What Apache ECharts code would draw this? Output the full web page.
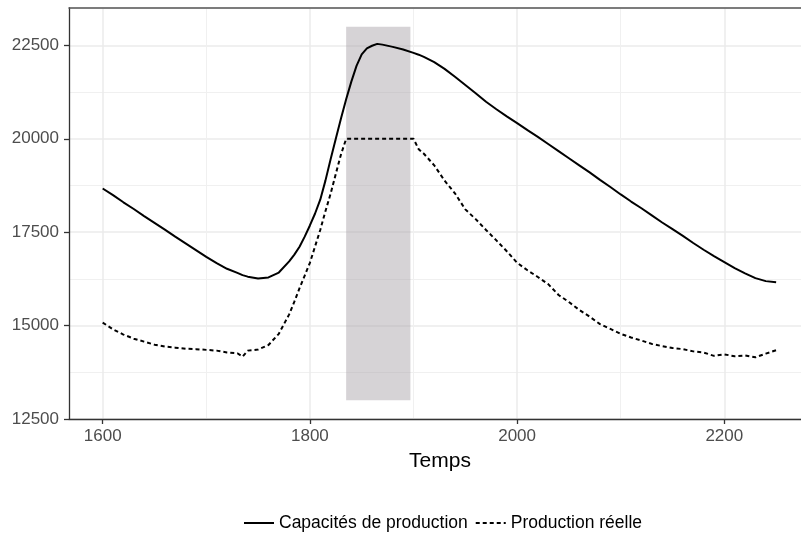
<!DOCTYPE html>
<html>
<head>
<meta charset="utf-8">
<script src="https://cdn.jsdelivr.net/npm/echarts@6/dist/echarts.min.js"></script>
<style>
  html, body { margin: 0; padding: 0; background: #fff; overflow: hidden; }
  #chart { width: 801px; height: 536px; }
</style>
</head>
<body>
<div id="chart"></div>
<script>
// years and values
const years = [
  1600, 1610, 1620, 1630, 1640, 1650, 1660, 1670, 1680, 1690,
  1700, 1710, 1720, 1730, 1735, 1740, 1750, 1760, 1770, 1780,
  1785, 1790, 1795, 1800, 1805, 1810, 1815, 1820, 1825, 1830,
  1835, 1840, 1845, 1850, 1855, 1860, 1865, 1870, 1880, 1890,
  1900, 1905, 1910, 1920, 1930, 1940, 1950, 1960, 1970, 1980,
  1990, 2000, 2010, 2020, 2030, 2040, 2050, 2060, 2070, 2080,
  2090, 2100, 2110, 2120, 2130, 2140, 2150, 2160, 2170, 2180,
  2190, 2200, 2210, 2220, 2230, 2240, 2250
];
const capacites = [
  18670, 18490, 18300, 18120, 17930, 17750, 17570, 17380, 17200, 17020,
  16840, 16670, 16520, 16410, 16350, 16310, 16260, 16290, 16420, 16720,
  16900, 17110, 17380, 17680, 18000, 18370, 18880, 19450, 20000, 20540,
  21060, 21530, 21950, 22260, 22420, 22490, 22540, 22520, 22460, 22390,
  22300, 22250, 22190, 22050, 21870, 21660, 21440, 21220, 20990, 20790,
  20600, 20420, 20230, 20050, 19860, 19670, 19480, 19290, 19100, 18900,
  18710, 18510, 18320, 18140, 17950, 17760, 17580, 17400, 17210, 17030,
  16860, 16700, 16540, 16400, 16270, 16190, 16160
];
const production = [
  15080, 14900, 14760, 14650, 14570, 14490, 14440, 14410, 14380, 14370,
  14350, 14330, 14280, 14260, 14170, 14330, 14360, 14480, 14780, 15300,
  15640, 16000, 16340, 16680, 17120, 17560, 18060, 18530, 19060, 19580,
  20000, 20000, 20000, 20000, 20000, 20000, 20000, 20000, 20000, 20000,
  20000, 19720, 19600, 19290, 18880, 18540, 18110, 17850, 17560, 17280,
  16990, 16680, 16480, 16300, 16110, 15820, 15630, 15420, 15240, 15040,
  14910, 14780, 14680, 14600, 14510, 14450, 14400, 14370, 14310, 14280,
  14190, 14230, 14180, 14200, 14150, 14250, 14340
];

const xTicks = [1600, 1800, 2000, 2200];
const xMinorTicks = [1700, 1900, 2100];
const shadeX = [1835, 1897];
const shadeY = [13000, 23000];

const seriesNames = ['Capacités de production', 'Production réelle'];

const font = "'Liberation Sans', Arial, sans-serif";

const chart = echarts.init(document.getElementById('chart'));

const option = {
  animation: false,
  backgroundColor: '#ffffff',
  grid: { left: 69, top: 8, right: 0, bottom: 117 },
  title: {
    text: 'Temps',
    left: 440, top: 451, textAlign: 'center',
    padding: 0,
    textStyle: { fontFamily: font, fontSize: 21, fontWeight: 'normal', color: '#000' }
  },
  legend: {
    data: seriesNames,
    left: 243, top: 514,
    padding: 0,
    itemWidth: 30, itemHeight: 14, itemGap: 7,
    itemStyle: { color: 'transparent', borderColor: 'transparent', borderWidth: 0, opacity: 0 },
    textStyle: { fontFamily: font, fontSize: 17.5, color: '#000' }
  },
  xAxis: [
    {
      type: 'value',
      min: 1567.5, max: 2274,
      axisLine: { show: true, onZero: false, lineStyle: { color: '#333', width: 1.3 } },
      axisTick: { show: true, length: 5, customValues: xTicks, lineStyle: { color: '#333', width: 1.3 } },
      axisLabel: {
        customValues: xTicks, margin: 9, fontFamily: font, fontSize: 17, color: '#4d4d4d',
        formatter: v => String(v)
      },
      splitLine: { show: true, lineStyle: { color: '#ebebeb', width: 1.5 } }
    },
    {
      // top border of the panel + minor vertical grid
      type: 'value',
      min: 1567.5, max: 2274,
      position: 'top',
      axisLine: { show: true, onZero: false, lineStyle: { color: '#555', width: 1.5 } },
      axisTick: { show: false, customValues: xMinorTicks },
      axisLabel: { show: false, customValues: xMinorTicks },
      splitLine: { show: true, lineStyle: { color: '#f0f0f0', width: 1 } }
    }
  ],
  yAxis: {
    type: 'value',
    min: 12500, max: 23500, interval: 2500,
    axisLine: { show: true, onZero: false, lineStyle: { color: '#333', width: 1.3 } },
    axisTick: { show: true, length: 5, lineStyle: { color: '#333', width: 1.3 } },
    axisLabel: {
      margin: 10, fontFamily: font, fontSize: 17, color: '#4d4d4d', showMaxLabel: false,
      formatter: v => String(v)
    },
    splitLine: { show: true, lineStyle: { color: '#ebebeb', width: 1.5 } },
    minorTick: { show: false, splitNumber: 2 },
    minorSplitLine: { show: true, lineStyle: { color: '#f0f0f0', width: 1 } }
  },
  series: [
    {
      name: 'shade',
      type: 'line',
      data: [],
      z: 1,
      silent: true,
      markArea: {
        silent: true,
        itemStyle: { color: 'rgba(165,160,165,0.46)' },
        data: [[{ xAxis: shadeX[0], yAxis: shadeY[0] }, { xAxis: shadeX[1], yAxis: shadeY[1] }]]
      }
    },
    {
      name: seriesNames[0],
      type: 'line',
      z: 3,
      showSymbol: false,
      symbol: 'none',
      color: '#000',
      lineStyle: { color: '#000', width: 2 },
      data: years.map((y, i) => [y, capacites[i]])
    },
    {
      name: seriesNames[1],
      type: 'line',
      z: 3,
      showSymbol: false,
      symbol: 'none',
      color: '#000',
      lineStyle: { color: '#000', width: 2, type: [4, 3] },
      data: years.map((y, i) => [y, production[i]])
    }
  ]
};

chart.setOption(option);
</script>
</body>
</html>
